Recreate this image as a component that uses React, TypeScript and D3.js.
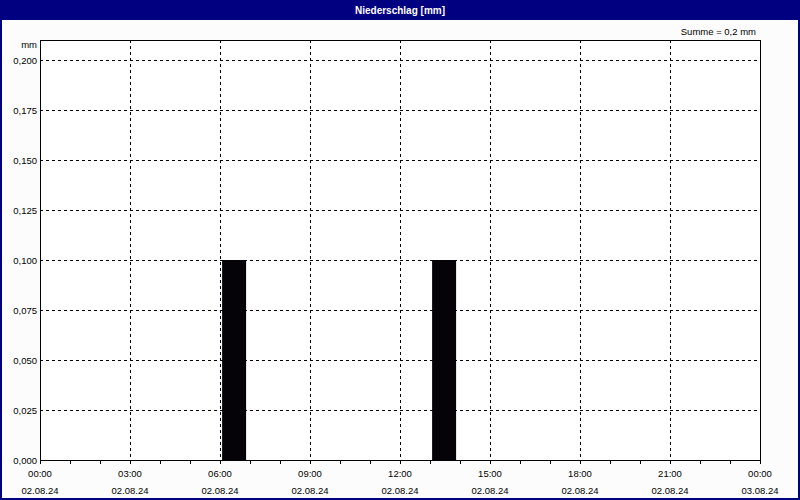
import React from "react";
import * as d3 from "d3";

const hours: number[] = Array.from({ length: 24 }, (_, i) => i);
const precip: number[] = [0, 0, 0, 0, 0, 0, 0.1, 0, 0, 0, 0, 0, 0, 0.1, 0, 0, 0, 0, 0, 0, 0, 0, 0, 0];
const yTicks: number[] = [0, 0.025, 0.05, 0.075, 0.1, 0.125, 0.15, 0.175, 0.2];
const xTickHours: number[] = [0, 3, 6, 9, 12, 15, 18, 21, 24];
const xTimeLabels: string[] = ["00:00", "03:00", "06:00", "09:00", "12:00", "15:00", "18:00", "21:00", "00:00"];
const xDateLabels: string[] = ["02.08.24", "02.08.24", "02.08.24", "02.08.24", "02.08.24", "02.08.24", "02.08.24", "02.08.24", "03.08.24"];
const title = "Niederschlag [mm]";
const sumLabel = "Summe = 0,2 mm";
const unit = "mm";

const W = 800, H = 500;
const L = 40, R = 760, T = 40, B = 460;

export default function App() {
  const x = d3.scaleLinear().domain([0, 24]).range([L, R]);
  const y = d3.scaleLinear().domain([0, 0.2]).range([B, 60]);
  const font = "'Liberation Sans', Arial, sans-serif";
  const fs = 9.5;
  const fmt = (v: number) => v.toFixed(3).replace(".", ",");
  const minor = d3.range(0, 25);
  return (
    <svg width={W} height={H} style={{ position: "absolute", left: 0, top: 0 }} fontFamily={font}>
      <rect x={0} y={0} width={W} height={H} fill="#fcfcfc" />
      <rect x={0} y={0} width={W} height={20} fill="#000080" />
      <line x1={1} x2={1} y1={0} y2={H} stroke="#000080" strokeWidth={2} />
      <line x1={W - 1} x2={W - 1} y1={0} y2={H} stroke="#000080" strokeWidth={2} />
      <line x1={0} x2={W} y1={H - 1} y2={H - 1} stroke="#000080" strokeWidth={2} />
      <text x={W / 2} y={14} textAnchor="middle" fill="#ffffff" fontSize={10} fontWeight="bold">{title}</text>
      <text x={756} y={35} textAnchor="end" fill="#000" fontSize={fs}>{sumLabel}</text>
      <rect x={L} y={T} width={R - L} height={B - T} fill="#ffffff" />
      {yTicks.slice(1).map((v, i) => (
        <line key={"hg" + i} x1={L} x2={R} y1={Math.round(y(v)) + 0.5} y2={Math.round(y(v)) + 0.5} stroke="#000" strokeDasharray="3,3" strokeWidth={1} />
      ))}
      {xTickHours.slice(1, -1).map((h, i) => (
        <line key={"vg" + i} x1={Math.round(x(h)) + 0.5} x2={Math.round(x(h)) + 0.5} y1={T} y2={B} stroke="#000" strokeDasharray="3,3" strokeWidth={1} />
      ))}
      {hours.map((h, i) => precip[i] > 0 ? (
        <rect key={"b" + i} x={x(h + 0.07)} y={y(precip[i])} width={x(h + 0.87) - x(h + 0.07)} height={B - y(precip[i])} fill="#050308" />
      ) : null)}
      <rect x={L + 0.5} y={T + 0.5} width={R - L} height={B - T} fill="none" stroke="#000" strokeWidth={1} />
      {minor.map((h) => (
        <line key={"mt" + h} x1={Math.round(x(h)) + 0.5} x2={Math.round(x(h)) + 0.5} y1={B} y2={B + 4} stroke="#000" />
      ))}
      {yTicks.map((v, i) => (
        <text key={"yl" + i} x={37} y={y(v) + 3.5} textAnchor="end" fontSize={fs} fill="#000">{fmt(v)}</text>
      ))}
      <text x={37} y={48} textAnchor="end" fontSize={fs} fill="#000">{unit}</text>
      {xTickHours.map((h, i) => (
        <g key={"xl" + i}>
          <text x={x(h)} y={477} textAnchor="middle" fontSize={fs} fill="#000">{xTimeLabels[i]}</text>
          <text x={x(h)} y={494} textAnchor="middle" fontSize={fs} fill="#000">{xDateLabels[i]}</text>
        </g>
      ))}
    </svg>
  );
}
